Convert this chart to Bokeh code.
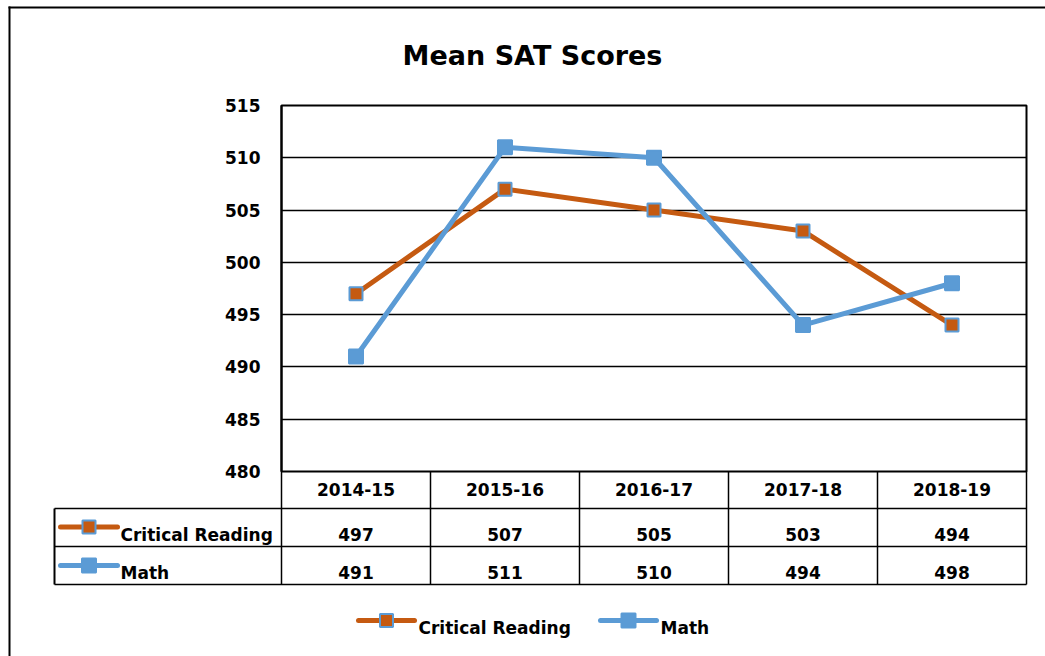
from bokeh.plotting import figure
from bokeh.models import Range1d, FixedTicker, LinearAxis, Grid
from bokeh.embed import file_html
from bokeh.resources import INLINE
from bokeh.core.properties import value

# ---- data ----
years = ["2014-15", "2015-16", "2016-17", "2017-18", "2018-19"]
critical_reading = [497, 507, 505, 503, 494]
math_scores = [491, 511, 510, 494, 498]
y_ticks = [480, 485, 490, 495, 500, 505, 510, 515]
series_names = ["Critical Reading", "Math"]
title_text = "Mean SAT Scores"

# ---- style / layout ----
CR_COLOR = "#C55A11"
MATH_COLOR = "#5B9BD5"
FONT = "DejaVu Sans"
W, H = 1045, 656
ML, MR, MT, MB = 281, 19, 105, 185
FL, FR = ML, W - MR          # frame edges in page px
FT, FB = MT, H - MB

idx = list(range(len(years)))
x0, x1 = -0.5, len(years) - 0.5
y0, y1 = y_ticks[0], y_ticks[-1]


def dx(px):
    return x0 + (px - FL) * (x1 - x0) / (FR - FL)


def dy(py):
    return y0 + (FB - py) * (y1 - y0) / (FB - FT)


p = figure(width=W, height=H, x_range=Range1d(x0, x1), y_range=Range1d(y0, y1),
           output_backend="svg", toolbar_location=None, title=None,
           x_axis_type=None, y_axis_type=None,
           min_border_left=ML, min_border_right=MR, min_border_top=MT, min_border_bottom=MB)
p.background_fill_color = "white"
p.border_fill_color = "white"
p.outline_line_color = "black"
p.outline_line_width = 2

yax = LinearAxis(ticker=FixedTicker(ticks=y_ticks),
                 major_tick_out=0, major_tick_in=0, minor_tick_out=0, minor_tick_in=0,
                 axis_line_color="black", axis_line_width=2,
                 major_label_text_font=FONT, major_label_text_font_style="bold",
                 major_label_text_font_size="17px", major_label_text_color="black",
                 major_label_standoff=21)
p.add_layout(yax, "left")

xax = LinearAxis(ticker=FixedTicker(ticks=idx),
                 major_label_overrides={i: y for i, y in zip(idx, years)},
                 major_tick_out=0, major_tick_in=0, minor_tick_out=0, minor_tick_in=0,
                 axis_line_color=None,
                 major_label_text_font=FONT, major_label_text_font_style="bold",
                 major_label_text_font_size="17px", major_label_text_color="black",
                 major_label_standoff=11)
p.add_layout(xax, "below")

p.add_layout(Grid(dimension=1, ticker=FixedTicker(ticks=y_ticks),
                  grid_line_color="black", grid_line_width=1.5))

# ---- series ----
CR_MARK = dict(marker="square", size=13, fill_color=CR_COLOR, line_color=MATH_COLOR, line_width=2)
M_MARK = dict(marker="square", size=14, fill_color=MATH_COLOR, line_color=MATH_COLOR, line_width=2)
p.line(idx, critical_reading, line_color=CR_COLOR, line_width=5, line_join="round")
p.scatter(idx, critical_reading, **CR_MARK)
p.line(idx, math_scores, line_color=MATH_COLOR, line_width=5, line_join="round")
p.scatter(idx, math_scores, **M_MARK)

# ---- data table ----
ROW_LINES = [508, 546, 584]
LEFT_COL = 54
p.segment(x0=[dx(LEFT_COL)] * 3, x1=[x1] * 3, y0=[dy(r) for r in ROW_LINES],
          y1=[dy(r) for r in ROW_LINES], line_color="black", line_width=1.5, level="overlay")
bounds = [i - 0.5 for i in range(len(years) + 1)]
p.segment(x0=bounds, x1=bounds, y0=[y0] * len(bounds), y1=[dy(ROW_LINES[-1])] * len(bounds),
          line_color="black", line_width=1.5, level="overlay")
p.segment(x0=[dx(LEFT_COL)], x1=[dx(LEFT_COL)], y0=[dy(ROW_LINES[0])], y1=[dy(ROW_LINES[-1])],
          line_color="black", line_width=2, level="overlay")

txt = dict(text_baseline="alphabetic", text_font=value(FONT),
           text_font_style="bold", text_font_size="17px", text_color="black", level="overlay")
p.text(x=idx, y=[dy(534)] * len(idx), text=[str(v) for v in critical_reading],
       text_align="center", **txt)
p.text(x=idx, y=[dy(572)] * len(idx), text=[str(v) for v in math_scores],
       text_align="center", **txt)


# ---- legend keys (table rows and bottom legend) ----
def key(x_left, y_mid, width, color, mark):
    p.line([dx(x_left), dx(x_left + width)], [dy(y_mid), dy(y_mid)], line_color=color,
           line_width=5, line_cap="round", level="overlay")
    cx = x_left + width / 2
    h = mark["size"] / 2
    p.patch([dx(cx - h), dx(cx + h), dx(cx + h), dx(cx - h)],
            [dy(y_mid - h), dy(y_mid - h), dy(y_mid + h), dy(y_mid + h)],
            fill_color=mark["fill_color"], line_color=mark["line_color"],
            line_width=mark["line_width"], level="overlay")


key(60, 526.5, 57, CR_COLOR, CR_MARK)
key(60, 565, 57, MATH_COLOR, M_MARK)
p.text(x=[dx(120), dx(120)], y=[dy(534), dy(572)], text=series_names, text_align="left", **txt)

key(358, 620, 56, CR_COLOR, CR_MARK)
key(600, 620, 56, MATH_COLOR, M_MARK)
p.text(x=[dx(418), dx(660)], y=[dy(627), dy(627)], text=series_names, text_align="left", **txt)

# ---- title ----
p.text(x=[dx(532)], y=[dy(55)], text=[title_text], text_align="center",
       text_baseline="alphabetic", text_font=value(FONT), text_font_style="bold",
       text_font_size="27px", text_color="black", level="overlay")

# ---- chart border ----
p.segment(x0=[dx(9), dx(8)], y0=[dy(6), dy(7)], x1=[dx(9), dx(1100)], y1=[dy(800), dy(7)],
          line_color="black", line_width=2, level="overlay")

open("out.html", "w").write(file_html(p, INLINE, title=title_text))
